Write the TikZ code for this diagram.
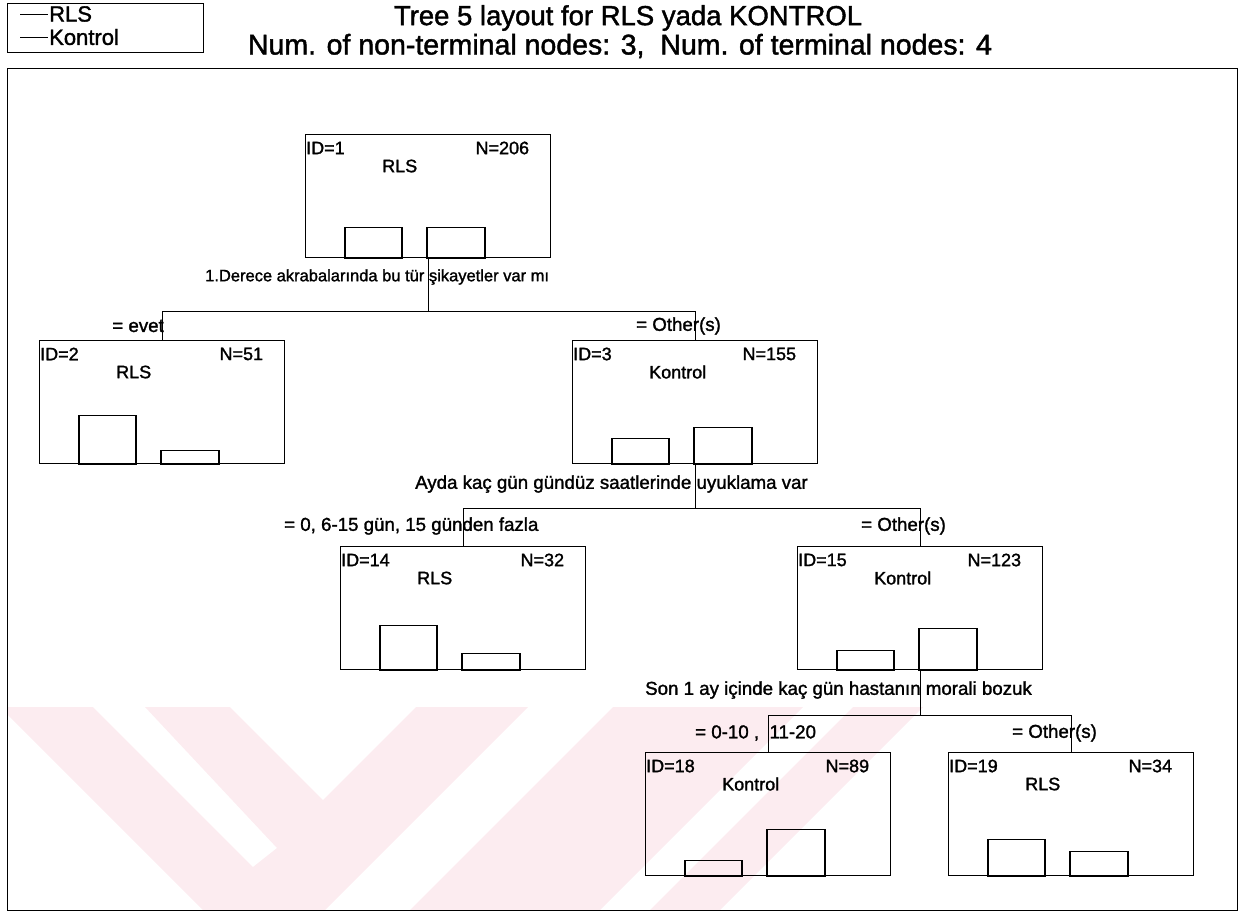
\documentclass[tikz,border=0pt]{standalone}
\usepackage{fontspec}
\setmainfont{Liberation Sans}[FakeBold=1.5]
\usetikzlibrary{positioning}
\definecolor{wmpink}{RGB}{252,236,240}
\tikzset{
  tnode/.style={draw, line width=1.3pt, minimum width=245pt, minimum height=123pt, inner sep=0pt, anchor=north west},
  small/.style={font=\fontsize{18}{20}\selectfont, inner sep=0pt},
  split/.style={font=\fontsize{18.7}{21}\selectfont, inner sep=0pt},
  bar/.style={line width=1.2pt},
  link/.style={line width=1.2pt},
}

\begin{document}
\begin{tikzpicture}[x=1pt,y=-1pt]
\useasboundingbox (0,0) rectangle (1244,918);
% watermark
\begin{scope}
  \clip (7,707) rectangle (1237,910);
  \fill[wmpink] (7,707) -- (93,707) -- (253,867) -- (277,848) -- (145,707) -- (230,707)
    -- (323,800) -- (416,707) -- (528,707) -- (325,910) -- (203,910) -- (7,714) -- cycle;
  \fill[wmpink] (613,707) -- (803,707) -- (600,910) -- (410,910) -- cycle;
  \fill[wmpink] (853,707) -- (923,707) -- (720,910) -- (650,910) -- cycle;
\end{scope}

% legend and title
\draw[line width=1pt] (7,3) rectangle (203,52);
\draw (20,14) -- (48,14);
\draw (20,37) -- (48,37);
\node[anchor=west, inner sep=0pt, font=\fontsize{22}{24}\selectfont] (lgrls) at (49,14) {RLS};
\node[anchor=west, inner sep=0pt, font=\fontsize{22}{24}\selectfont] (lgkon) at (49,37) {Kontrol};
\node[font=\fontsize{27.5}{30}\selectfont, inner sep=0pt] (title) at (628,18) {Tree 5 layout for RLS yada KONTROL};
\node[font=\fontsize{28.5}{30}\selectfont, inner sep=0pt] (subtitle) at (620,46) {Num. of non-terminal nodes: 3,\ \ Num. of terminal nodes: 4};
\draw[line width=1pt] (7,68) rectangle (1237,910);

% tree nodes
\foreach \nm/\x/\y/\id/\nn/\cl/\ha/\hb in {n1/305/134/1/206/RLS/31/31, n2/39/340/2/51/RLS/49/14,
    n3/572/340/3/155/Kontrol/26/37, n14/340/546/14/32/RLS/45/17, n15/797/546/15/123/Kontrol/20/42,
    n18/645/752/18/89/Kontrol/16/47, n19/948/752/19/34/RLS/37/25}{
  \node[tnode] (\nm) at (\x,\y) {};
  \node[small, anchor=west] (\nm-id) at ([shift={(1,14)}]\nm.north west) {ID=\id};
  \node[small, anchor=east] (\nm-n) at ([shift={(-22,14)}]\nm.north east) {N=\nn};
  \node[small, anchor=west] (\nm-cl) at ([shift={(77,32)}]\nm.north west) {\cl};
  \draw[bar] ([xshift=40pt]\nm.south west) rectangle ++(57,-\ha);
  \draw[bar] ([xshift=122pt]\nm.south west) rectangle ++(58,-\hb);
}

% splits
\draw[link] (n1.south) -- ++(0,53) coordinate (s1) -| (n2.north);
\draw[link] (s1) -| (n3.north);
\draw[link] (n3.south) -- ++(0,44) coordinate (s3) -| (n14.north);
\draw[link] (s3) -| (n15.north);
\draw[link] (n15.south) -- ++(0,45) coordinate (s15) -| (n18.north);
\draw[link] (s15) -| (n19.north);

\node[split, anchor=west, font=\fontsize{16.5}{19}\selectfont] (q1) at (205,277) {1.Derece akrabalarında bu tür şikayetler var mı};
\node[split, anchor=east] (e2) at (164,326) {= evet};
\node[split, anchor=west] (e3) at (636,326) {= Other(s)};
\node[split, anchor=west] (q3) at (415,484) {Ayda kaç gün gündüz saatlerinde uyuklama var};
\node[split, anchor=west] (e14) at (284,526) {= 0, 6-15 gün, 15 günden fazla};
\node[split, anchor=west] (e15) at (861,526) {= Other(s)};
\node[split, anchor=west] (q15) at (645,690) {Son 1 ay içinde kaç gün hastanın morali bozuk};
\node[split, anchor=west] (e18) at (695,733) {= 0-10 ,\ \ 11-20};
\node[split, anchor=west] (e19) at (1012,733) {= Other(s)};
\end{tikzpicture}
\end{document}
